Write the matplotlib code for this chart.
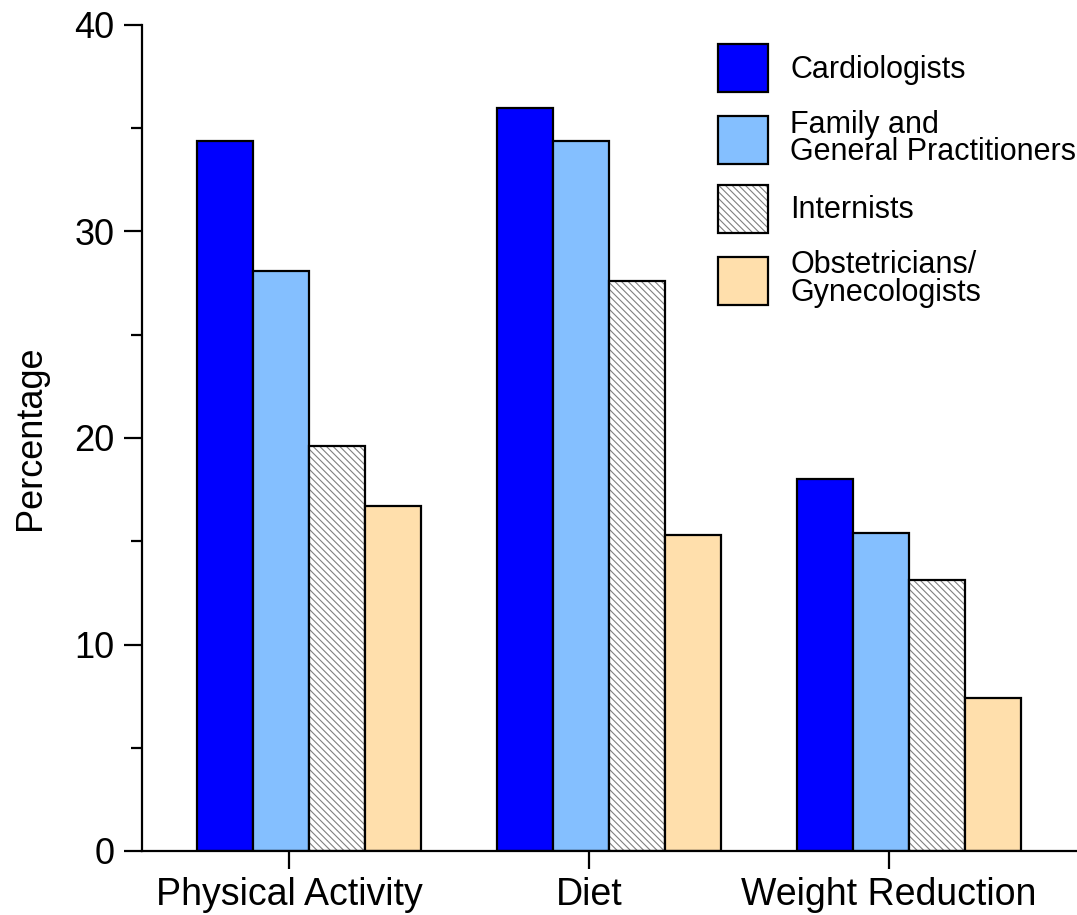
import numpy as np
import matplotlib.pyplot as plt
from matplotlib.patches import Patch
from matplotlib.legend_handler import HandlerTuple

plt.rcParams['font.family'] = ['Liberation Sans', 'DejaVu Sans']
plt.rcParams['hatch.linewidth'] = 0.8

# data
categories = ["Physical Activity", "Diet", "Weight Reduction"]
specialties = ["Cardiologists", "Family and\nGeneral Practitioners", "Internists",
               "Obstetricians/\nGynecologists"]
cardiologists = [34.4, 36.0, 18.0]
family_gp = [28.1, 34.4, 15.4]
internists = [19.6, 27.6, 13.1]
obgyn = [16.7, 15.3, 7.4]

series = [cardiologists, family_gp, internists, obgyn]
colors = ["#0000ff", "#84bfff", "white", "#ffdfac"]

fig = plt.figure(figsize=(10.77, 9.15), dpi=100)
ax = fig.add_axes([142 / 1077, 1 - 851 / 915, 1 - 142 / 1077, (851 - 25) / 915])

x = np.arange(len(categories))
w = 0.187
shift = 0.067  # bars sit a bit right of the tick in the original
handles = []
for i, (vals, col) in enumerate(zip(series, colors)):
    pos = x + shift + (i - 1.5) * w
    if i == 2:
        ax.bar(pos, vals, w, color="white", edgecolor="#808080", hatch="\\\\\\\\\\", linewidth=0)
        ax.bar(pos, vals, w, fill=False, edgecolor="black", linewidth=1.6)
        h = (Patch(facecolor="white", edgecolor="#808080", hatch="\\\\\\\\\\", linewidth=0),
             Patch(fill=False, edgecolor="black", linewidth=1.6))
    else:
        ax.bar(pos, vals, w, color=col, edgecolor="black", linewidth=1.6)
        h = Patch(facecolor=col, edgecolor="black", linewidth=1.6)
    handles.append(h)

ax.set_xlim(-0.49, 2.627)
ax.set_ylim(0, 40)
ax.set_yticks([0, 10, 20, 30, 40])
ax.set_yticks([5, 15, 25, 35], minor=True)
ax.set_xticks(x)
ax.set_xticklabels(categories)
ax.tick_params(axis="both", which="major", labelsize=26, length=13, width=1.6, direction="out")
ax.tick_params(axis="y", which="minor", length=8, width=1.6, direction="out")
ax.tick_params(axis="x", labelsize=27, pad=6)
ax.tick_params(axis="y", pad=7)
ax.set_ylabel("Percentage", fontsize=26, labelpad=19)
for s in ["top", "right"]:
    ax.spines[s].set_visible(False)
for s in ["left", "bottom"]:
    ax.spines[s].set_linewidth(1.6)

leg = fig.legend(handles, specialties, loc="upper left",
                 bbox_to_anchor=(718 / 1077, 1 - 44 / 915), bbox_transform=fig.transFigure,
                 frameon=False, fontsize=22, borderpad=0, borderaxespad=0,
                 handlelength=1.64, handleheight=2.04, handletextpad=0.72, labelspacing=0.58,
                 handler_map={tuple: HandlerTuple(ndivide=1, pad=0)})
for t in leg.get_texts():
    t.set_linespacing(0.88)

fig.savefig("out.png", dpi=100)
